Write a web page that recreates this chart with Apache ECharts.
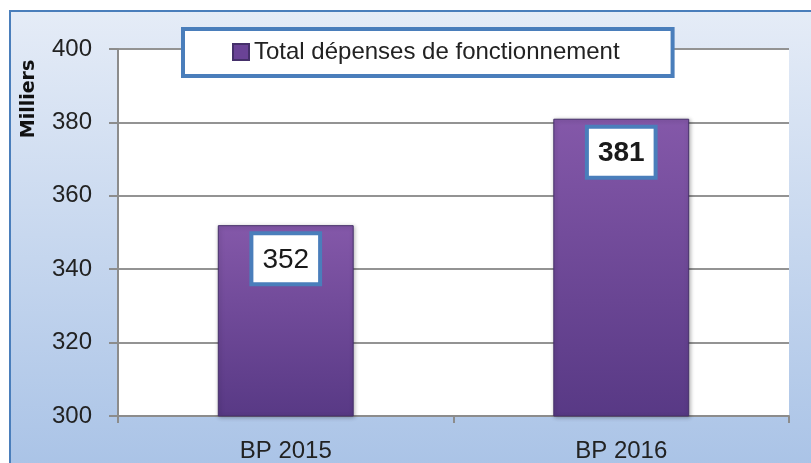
<!DOCTYPE html>
<html>
<head>
<meta charset="utf-8">
<script src="https://cdn.jsdelivr.net/npm/echarts@6/dist/echarts.min.js"></script>
<style>
  html, body { margin: 0; padding: 0; background: #fff; }
  #chart { width: 811px; height: 463px; }
</style>
</head>
<body>
<div id="chart"></div>
<script>
// données
const categories = ['BP 2015', 'BP 2016']
const seriesName = 'Total dépenses de fonctionnement'
const values = [352, 381]
const boldLabel = [false, true]
const yTicks = [300, 320, 340, 360, 380, 400]
const yTitle = 'Milliers'

const chart = echarts.init(document.getElementById('chart'))

const purple = new echarts.graphic.LinearGradient(0, 0, 0, 1, [
  { offset: 0, color: '#8458a9' },
  { offset: 1, color: '#583985' },
])

const labelBox = (bold) => ({
  show: true,
  position: 'insideTop',
  distance: 10,
  formatter: '{c}',
  fontFamily: 'Liberation Sans',
  fontSize: 28,
  fontWeight: bold ? 'bold' : 'normal',
  color: '#1a1a1a',
  backgroundColor: '#fff',
  borderColor: '#4a7ebb',
  borderWidth: 4,
  padding: [11, 9, 8, 9],
})

const option = {
  animation: false,
  backgroundColor: '#fff',
  graphic: [
    {
      type: 'rect',
      z: -10,
      silent: true,
      shape: { x: 10, y: 11, width: 820, height: 470 },
      style: {
        fill: new echarts.graphic.LinearGradient(0, 0, 0, 1, [
          { offset: 0, color: '#e5ecf7' },
          { offset: 1, color: '#a8c2e6' },
        ]),
        stroke: '#4a7ebb',
        lineWidth: 2,
      },
    },
    {
      // titre de l'axe vertical
      type: 'text',
      x: 29,
      y: 99,
      rotation: Math.PI / 2,
      silent: true,
      style: {
        text: yTitle,
        fontFamily: 'DejaVu Sans',
        fontWeight: 'bold',
        fontSize: 19,
        fill: '#111',
        align: 'center',
        verticalAlign: 'middle',
      },
    },
  ],
  legend: {
    left: 183,
    top: 29,
    padding: [11, 53, 12, 49],
    borderColor: '#4a7ebb',
    borderWidth: 4,
    borderRadius: 0,
    backgroundColor: '#fff',
    itemWidth: 16,
    itemHeight: 16,
    itemGap: 5,
    icon: 'rect',
    textStyle: { fontFamily: 'Liberation Sans', fontSize: 24, color: '#222' },
    data: [{ name: seriesName, itemStyle: { color: '#6a4396' } }],
  },
  grid: {
    left: 118,
    right: 22,
    top: 49,
    bottom: 44,
    show: true,
    backgroundColor: '#fff',
    borderWidth: 0,
  },
  xAxis: {
    type: 'category',
    data: categories,
    axisLine: { show: true, lineStyle: { color: '#8c8c8c', width: 2 } },
    axisTick: { show: true, length: 7, lineStyle: { color: '#8c8c8c', width: 2 } },
    axisLabel: {
      margin: 23,
      fontFamily: 'Liberation Sans',
      fontSize: 24,
      color: '#222',
    },
  },
  yAxis: {
    type: 'value',
    min: yTicks[0],
    max: yTicks[yTicks.length - 1],
    interval: 20,
    axisLine: { show: true, lineStyle: { color: '#8c8c8c', width: 2 } },
    axisTick: { show: true, inside: false, length: 9, lineStyle: { color: '#8c8c8c', width: 2 } },
    axisLabel: {
      margin: 26,
      fontFamily: 'Liberation Sans',
      fontSize: 24,
      color: '#222',
    },
    splitLine: { show: true, lineStyle: { color: '#939393', width: 2 } },
  },
  series: [
    {
      name: seriesName,
      type: 'bar',
      barWidth: '40.5%',
      data: values.map((v, i) => ({ value: v, label: labelBox(boldLabel[i]) })),
      itemStyle: {
        color: purple,
        borderColor: '#45306a',
        borderWidth: 1,
        shadowColor: 'rgba(0,0,0,0.3)',
        shadowBlur: 4,
        shadowOffsetX: 1,
        shadowOffsetY: 1,
      },
    },
  ],
}

chart.setOption(option)
</script>
</body>
</html>
